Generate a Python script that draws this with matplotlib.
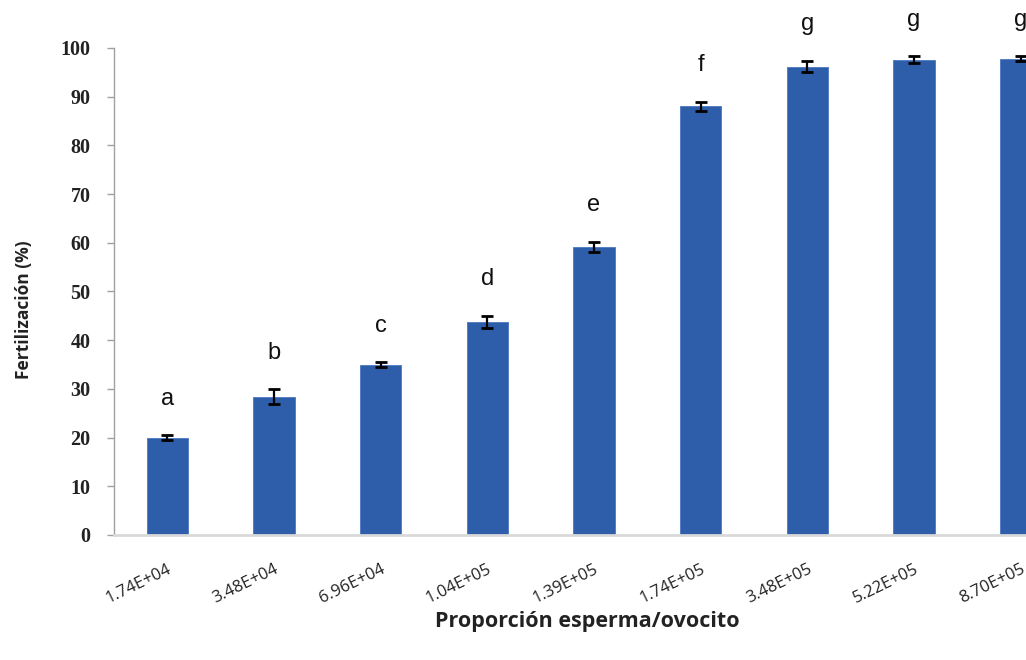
import matplotlib
matplotlib.use("Agg")
import matplotlib.pyplot as plt
import matplotlib.transforms as mtransforms
import numpy as np

# Sperm-to-oocyte ratio categories and fertilization results
ratios = ["1.74E+04", "3.48E+04", "6.96E+04", "1.04E+05", "1.39E+05",
          "1.74E+05", "3.48E+05", "5.22E+05", "8.70E+05"]
fertilization = [20.0, 28.4, 35.0, 43.8, 59.2, 88.0, 96.2, 97.6, 97.8]
errors = [0.5, 1.5, 0.5, 1.2, 1.0, 1.0, 1.2, 0.7, 0.5]
groups = ["a", "b", "c", "d", "e", "f", "g", "g", "g"]
yticks = [0, 10, 20, 30, 40, 50, 60, 70, 80, 90, 100]

fig = plt.figure(figsize=(10.26, 6.6), dpi=100)
ax = fig.add_axes([114 / 1026, 1 - 535 / 660, 960 / 1026, 487 / 660])

x = np.arange(len(ratios))
ax.bar(x, fertilization, width=0.39, color="#2E5EAA", edgecolor="#4A78C0",
       linewidth=0.6, zorder=2)
ax.errorbar(x, fertilization, yerr=errors, fmt="none", ecolor="black",
            elinewidth=1.6, capsize=4, capthick=2, zorder=3)

for xi, v, e, g in zip(x, fertilization, errors, groups):
    ax.text(xi, v + e + 7.5, g, ha="center", va="center", fontsize=17,
            family="Liberation Sans", color="#111111", clip_on=False)

ax.set_xlim(-0.5, len(ratios) - 0.5)
ax.set_ylim(0, 100)
ax.set_yticks(yticks)
ax.set_yticklabels([str(t) for t in yticks], family="Liberation Serif",
                   fontweight="bold", fontsize=14.5, color="#222222")
ax.set_xticks(x)
ax.set_xticklabels(ratios, rotation=26, ha="right", rotation_mode="anchor",
                   family="Open Sans", fontsize=12, color="#222222")

# nudge the rotated category labels a little to the left
shift = mtransforms.ScaledTranslation(-8 / 100, 0, fig.dpi_scale_trans)
for lab in ax.get_xticklabels():
    lab.set_transform(lab.get_transform() + shift)

ax.tick_params(axis="y", length=5, width=1, color="#A0A0A0", pad=12)
ax.tick_params(axis="x", length=0, pad=19)

for side in ("top", "right"):
    ax.spines[side].set_visible(False)
ax.spines["left"].set_color("#A0A0A0")
ax.spines["left"].set_linewidth(1)
ax.spines["bottom"].set_color("#D9D9D9")
ax.spines["bottom"].set_linewidth(2)

fig.text(587 / 1026, 1 - 621 / 660, "Proporción esperma/ovocito",
         ha="center", va="center", fontsize=15.5, fontweight="bold",
         family="Open Sans", color="#222222")
fig.text(24 / 1026, 1 - 310 / 660, "Fertilización (%)", ha="center",
         va="center", rotation=90, fontsize=12.5, fontweight="bold",
         family="Open Sans", color="#222222")

fig.savefig("out.png", dpi=100)
